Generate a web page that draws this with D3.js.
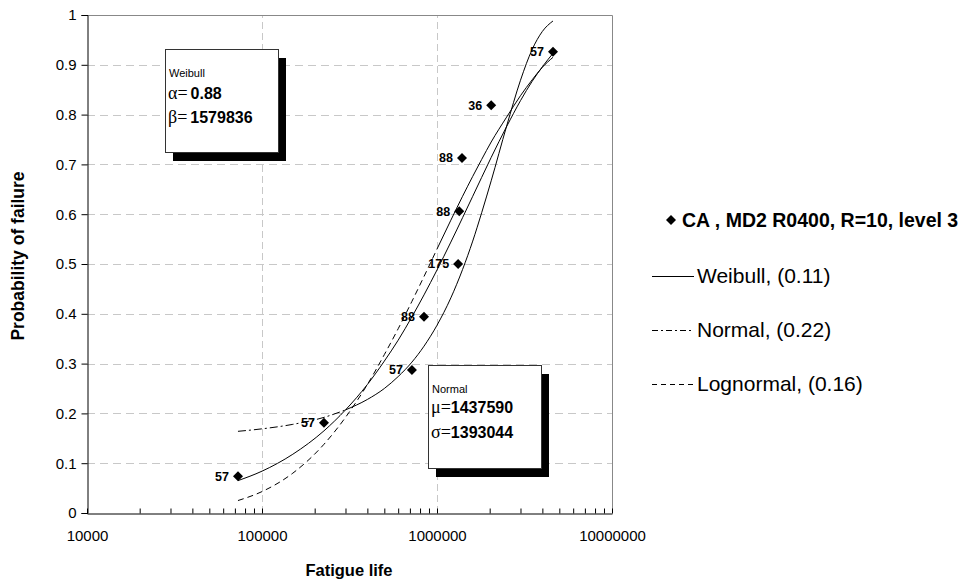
<!DOCTYPE html>
<html>
<head>
<meta charset="utf-8">
<script src="https://cdn.jsdelivr.net/npm/d3@7"></script>
<style>
  body { margin: 0; background: #fff; }
  svg { display: block; font-family: "Liberation Sans", Arial, sans-serif; }
</style>
</head>
<body>
<div id="chart"></div>
<script>
//test data: fatigue life and median rank
const lifeData = [72900, 226000, 719000, 843000, 1320000, 1340000, 1390000, 2040000, 4600000];
const probData = [0.074, 0.181, 0.287, 0.394, 0.5, 0.606, 0.713, 0.819, 0.926];
const labelData = ["57", "57", "57", "88", "175", "88", "88", "36", "57"];

//fitted curves
const curveLife = [72900, 100000, 150000, 226000, 300000, 400000, 500000, 600000, 719000, 843000,
  1000000, 1200000, 1400000, 1600000, 1800000, 2040000, 2500000, 3000000, 3500000, 4000000, 4600000];
const weibullP = [0.065, 0.084, 0.118, 0.165, 0.207, 0.258, 0.305, 0.347, 0.394, 0.438,
  0.488, 0.544, 0.593, 0.636, 0.674, 0.714, 0.776, 0.828, 0.867, 0.896, 0.923];
const normalP = [0.164, 0.169, 0.178, 0.192, 0.207, 0.228, 0.25, 0.274, 0.303, 0.335,
  0.377, 0.432, 0.489, 0.546, 0.603, 0.667, 0.777, 0.869, 0.931, 0.967, 0.988];
const lognormalP = [0.025, 0.043, 0.08, 0.138, 0.192, 0.258, 0.318, 0.37, 0.425, 0.475,
  0.53, 0.588, 0.636, 0.676, 0.71, 0.745, 0.795, 0.838, 0.87, 0.895, 0.915];

//tick labels
const yTicks = [0, 0.1, 0.2, 0.3, 0.4, 0.5, 0.6, 0.7, 0.8, 0.9, 1];
const xDecades = [10000, 100000, 1000000, 10000000];

//legend entries
const legendItems = [
  { text: "Weibull, (0.11)", dash: null },
  { text: "Normal, (0.22)", dash: "6,3,2,3" },
  { text: "Lognormal, (0.16)", dash: "5,4" },
];

//size
const width = 974;
const height = 585;
const margin = { top: 15, left: 87 };
const innerWidth = 525;
const innerHeight = 498;

const svg = d3.select("#chart").append("svg").attr("width", width).attr("height", height);

const x = d3.scaleLog().domain([1e4, 1e7]).range([margin.left, margin.left + innerWidth]);
const y = d3.scaleLinear().domain([0, 1]).range([margin.top + innerHeight, margin.top]);

//grid
svg.append("g")
  .selectAll("line")
  .data(yTicks.slice(1, -1))
  .join("line")
  .attr("x1", x(1e4)).attr("x2", x(1e7))
  .attr("y1", (d) => Math.round(y(d)) + 0.5).attr("y2", (d) => Math.round(y(d)) + 0.5)
  .attr("stroke", "#c8c8c8").attr("stroke-dasharray", "8,5");

svg.append("g")
  .selectAll("line")
  .data(xDecades.slice(1, -1))
  .join("line")
  .attr("x1", (d) => Math.round(x(d)) + 0.5).attr("x2", (d) => Math.round(x(d)) + 0.5)
  .attr("y1", y(0)).attr("y2", y(1))
  .attr("stroke", "#c8c8c8").attr("stroke-dasharray", "7,4");

//plot border top and right
svg.append("path")
  .attr("d", `M${x(1e4)},${y(1) + 0.5}H${x(1e7) + 0.5}V${y(0)}`)
  .attr("fill", "none").attr("stroke", "#888");

//y axis
svg.append("g")
  .attr("transform", `translate(${margin.left + 0.5},0)`)
  .call(d3.axisLeft(y).tickValues(yTicks).tickSize(6).tickPadding(5).tickFormat(d3.format("~g")))
  .call((g) => {
    g.attr("font-family", null).attr("font-size", 15);
    g.selectAll("text").attr("fill", "#000");
    g.selectAll("line,path").attr("stroke", "#000");
  });

//x axis, ticks inside, labels on decades only
svg.append("g")
  .attr("transform", `translate(0,${y(0) + 0.5})`)
  .call(d3.axisBottom(x).tickSize(-5).tickSizeOuter(0).tickPadding(17)
    .tickFormat((d) => (xDecades.includes(d) ? String(d) : "")))
  .call((g) => {
    g.attr("font-family", null).attr("font-size", 15);
    g.selectAll("text").filter(function () { return this.textContent === ""; }).remove();
    g.selectAll("text").attr("fill", "#000");
    g.selectAll("line,path").attr("stroke", "#000");
  });

//axis titles
svg.append("text")
  .attr("x", 349).attr("y", 576)
  .attr("text-anchor", "middle").attr("font-weight", "bold").attr("font-size", 16.5)
  .text("Fatigue life");

svg.append("text")
  .attr("transform", `translate(24,256) rotate(-90)`)
  .attr("text-anchor", "middle").attr("font-weight", "bold").attr("font-size", 17.5)
  .text("Probability of failure");

//curves
const line = d3.line().x((d) => x(d[0])).y((d) => y(d[1])).curve(d3.curveMonotoneX);
const pts = (p) => curveLife.map((l, i) => [l, p[i]]);

const plot = svg.append("g").attr("fill", "none").attr("stroke", "#000").attr("stroke-width", 1);

plot.append("path").attr("d", line(pts(weibullP)));

//normal: dash-dot on the flat part, looks solid where steep
const normalPts = pts(normalP);
const nSplit = curveLife.indexOf(300000);
plot.append("path").attr("d", line(normalPts.slice(0, nSplit + 1))).attr("stroke-dasharray", "8,3,2,3");
plot.append("path").attr("d", line(normalPts.slice(nSplit)));

//lognormal: dashed, solid where steep
const lognormalPts = pts(lognormalP);
const lSplit = curveLife.indexOf(1000000);
plot.append("path").attr("d", line(lognormalPts.slice(0, lSplit + 1))).attr("stroke-dasharray", "6,4");
plot.append("path").attr("d", line(lognormalPts.slice(lSplit)));

//points
const diamond = d3.symbol().type(d3.symbolSquare).size(50);
const points = svg.append("g")
  .selectAll("g")
  .data(lifeData.map((l, i) => ({ l, p: probData[i], label: labelData[i] })))
  .join("g")
  .attr("transform", (d) => `translate(${x(d.l)},${y(d.p)})`);

points.append("path").attr("d", diamond).attr("transform", "rotate(45)").attr("fill", "#000");
points.append("text")
  .attr("x", -9).attr("dy", "0.35em")
  .attr("text-anchor", "end").attr("font-weight", "bold").attr("font-size", 12.5)
  .text((d) => d.label);

//parameter boxes
function paramBox(bx, by, title, rows) {
  const g = svg.append("g");
  g.append("rect").attr("x", bx + 8).attr("y", by + 9).attr("width", 113).attr("height", 103).attr("fill", "#000");
  g.append("rect").attr("x", bx + 0.5).attr("y", by + 0.5).attr("width", 113).attr("height", 103)
    .attr("fill", "#fff").attr("stroke", "#333");
  g.append("text").attr("x", bx + 4).attr("y", by + rows.titleY).attr("font-size", 11).text(title);
  rows.items.forEach((r) => {
    const t = g.append("text").attr("x", bx + 3).attr("y", by + r.y);
    t.append("tspan").attr("font-family", "'Liberation Serif', 'Times New Roman', serif").attr("font-size", 18).text(r.sym);
    t.append("tspan").attr("font-weight", "bold").attr("font-size", 16).attr("dx", r.gap).text(r.value);
  });
}

paramBox(165, 49, "Weibull", {
  titleY: 28,
  items: [
    { sym: "\u03B1=", value: "0.88", y: 50, gap: 3 },
    { sym: "\u03B2=", value: "1579836", y: 74, gap: 3 },
  ],
});

paramBox(428, 365, "Normal", {
  titleY: 28,
  items: [
    { sym: "\u03BC=", value: "1437590", y: 48, gap: 0 },
    { sym: "\u03C3=", value: "1393044", y: 73, gap: 0 },
  ],
});

//legend
const legend = svg.append("g");
legend.append("path").attr("d", diamond).attr("transform", "translate(671,220) rotate(45)").attr("fill", "#000");
legend.append("text")
  .attr("x", 682).attr("y", 220).attr("dy", "0.35em")
  .attr("font-weight", "bold").attr("font-size", 19.5)
  .text("CA , MD2 R0400, R=10, level 3");

legendItems.forEach((d, i) => {
  const ly = 276 + i * 54;
  legend.append("line")
    .attr("x1", 652).attr("x2", 694).attr("y1", ly + 0.5).attr("y2", ly + 0.5)
    .attr("stroke", "#000").attr("stroke-dasharray", d.dash);
  legend.append("text")
    .attr("x", 697).attr("y", ly).attr("dy", "0.35em").attr("font-size", 21)
    .text(d.text);
});
</script>
</body>
</html>
